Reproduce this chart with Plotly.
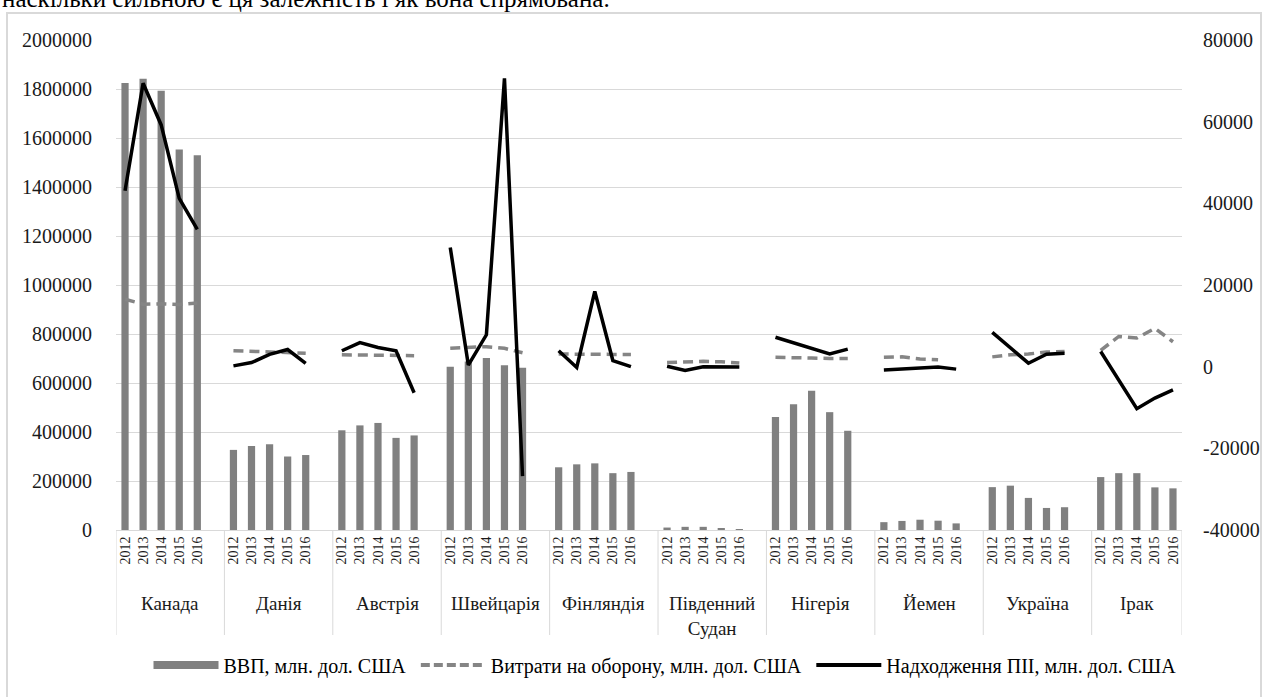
import plotly.graph_objects as go

countries = ["Канада", "Данія", "Австрія", "Швейцарія", "Фінляндія",
             "Південний<br>Судан", "Нігерія", "Йемен", "Україна", "Ірак"]
years = ["2012", "2013", "2014", "2015", "2016"]
right_ticks = [-40000, -20000, 0, 20000, 40000, 60000, 80000]

gdp = [
    [1824000, 1842000, 1793000, 1553000, 1530000],
    [327000, 343000, 350000, 300000, 306000],
    [407000, 427000, 437000, 376000, 386000],
    [666000, 688000, 702000, 672000, 662000],
    [256000, 268000, 272000, 232000, 237000],
    [10000, 13000, 13000, 6000, 2500],
    [461000, 513000, 568000, 481000, 405000],
    [32000, 37000, 42000, 38000, 27000],
    [175000, 181000, 131000, 90000, 93000],
    [216000, 232000, 232000, 174000, 170000],
]
defense = [
    [16500, 15300, 15400, 15200, 15600],
    [3900, 3700, 3500, 3300, 3300],
    [2900, 2800, 2800, 2700, 2700],
    [4500, 4700, 4900, 4500, 3400],
    [3100, 3000, 3000, 3000, 3000],
    [1000, 1200, 1300, 1200, 900],
    [2300, 2100, 2100, 2000, 2000],
    [2300, 2400, 1900, 1700, None],
    [2400, 2900, 3100, 3600, 3700],
    [4000, 7400, 7000, 9400, 6100],
]
fdi = [
    [43100, 69400, 59200, 41200, 33600],
    [200, 1000, 3000, 4200, 800],
    [3900, 5900, 4700, 3900, -6400],
    [29200, 400, 7800, 70600, -26800],
    [3900, -200, 18400, 1500, 0],
    [100, -900, 0, 0, -100],
    [7200, 5900, 4500, 3100, 4300],
    [-800, -600, -400, -100, -600],
    [8400, 4500, 850, 3050, 3300],
    [3700, -3300, -10300, -7700, -5700],
]

SLOT = len(years) + 1  # blank category after each country group
n_groups = len(countries)
x_max = n_groups * SLOT - 1 - 0.5

bar_x, bar_y, tick_vals, tick_text = [], [], [], []
line_x, def_y, fdi_y = [], [], []
for g in range(n_groups):
    for i, yr in enumerate(years):
        pos = g * SLOT + i
        bar_x.append(pos)
        bar_y.append(gdp[g][i])
        tick_vals.append(pos)
        tick_text.append(yr)
        line_x.append(pos)
        def_y.append(defense[g][i])
        fdi_y.append(fdi[g][i])
    line_x.append(None)
    def_y.append(None)
    fdi_y.append(None)

SERIF = "Liberation Serif, Times New Roman, serif"
GRID = "#d9d9d9"
NB = "\u00a0"

fig = go.Figure()
fig.add_trace(go.Bar(x=bar_x, y=bar_y, width=0.4, marker_color="#808080",
                     marker_line_width=0, name="ВВП, млн. дол. США",
                     showlegend=False, yaxis="y"))
fig.add_trace(go.Scatter(x=line_x, y=def_y, mode="lines", yaxis="y2",
                         line=dict(color="#858585", width=3.5, dash="10px,6px"),
                         connectgaps=False, showlegend=False,
                         name="Витрати на оборону, млн. дол. США"))
fig.add_trace(go.Scatter(x=line_x, y=fdi_y, mode="lines", yaxis="y2",
                         line=dict(color="#000000", width=3.5),
                         connectgaps=False, showlegend=False,
                         name="Надходження ПІІ, млн. дол. США"))
# legend entries
fig.add_trace(go.Scatter(x=[None], y=[None], mode="lines", yaxis="y2",
                         line=dict(color="#808080", width=8),
                         name="ВВП, млн. дол. США" + NB))
fig.add_trace(go.Scatter(x=[None], y=[None], mode="lines", yaxis="y2",
                         line=dict(color="#858585", width=4, dash="9px,4px"),
                         name="Витрати на оборону, млн. дол. США" + NB))
fig.add_trace(go.Scatter(x=[None], y=[None], mode="lines", yaxis="y2",
                         line=dict(color="#000000", width=4),
                         name="Надходження ПІІ, млн. дол. США"))

W, H = 1264, 697
PL, PR, PT, PB = 116, 1182, 40, 530      # plot area in page pixels
L, T = PL, PT
R, B = W - PR, H - PB
pw, ph = PR - PL, PB - PT

def py2paper(py):
    return (PB - py) / ph

def px2paper(px):
    return (px - PL) / pw

shapes = []
for g in range(n_groups + 1):
    xs = g * SLOT - 0.5 if g < n_groups else x_max
    shapes.append(dict(type="line", xref="x", yref="paper", x0=xs, x1=xs,
                       y0=0, y1=py2paper(635),
                       line=dict(color=GRID, width=1)))
shapes.append(dict(type="rect", xref="paper", yref="paper",
                   x0=px2paper(7), x1=px2paper(1261),
                   y0=py2paper(720), y1=py2paper(13),
                   line=dict(color="#d9d9d9", width=2), fillcolor="rgba(0,0,0,0)",
                   layer="below"))

annotations = []
for g, c in enumerate(countries):
    if g == n_groups - 1:
        cx = g * SLOT + (len(years) - 1) / 2
    else:
        cx = g * SLOT + (SLOT - 1) / 2
    annotations.append(dict(x=cx, y=py2paper(591), xref="x", yref="paper",
                            text=c, showarrow=False, yanchor="top",
                            font=dict(family=SERIF, size=19, color="#1a1a1a")))
annotations.append(dict(x=px2paper(0), y=py2paper(14), xref="paper",
                        yref="paper", xanchor="left", yanchor="bottom",
                        text="наскільки сильною є ця залежність і як вона спрямована.",
                        showarrow=False,
                        font=dict(family=SERIF, size=25, color="#000000")))

fig.update_layout(
    width=W, height=H,
    margin=dict(l=L, r=R, t=T, b=B, autoexpand=False),
    paper_bgcolor="white", plot_bgcolor="white",
    showlegend=True,
    legend=dict(orientation="h", x=px2paper(665), xanchor="center",
                y=py2paper(665), yanchor="middle",
                font=dict(family=SERIF, size=20, color="#000000"),
                itemwidth=65, bgcolor="rgba(0,0,0,0)"),
    xaxis=dict(range=[-0.5, x_max], tickmode="array", tickvals=tick_vals,
               ticktext=tick_text, tickangle=-90, showgrid=False,
               zeroline=False, showline=True, linecolor=GRID, linewidth=1,
               ticks="", tickfont=dict(family=SERIF, size=14, color="#1a1a1a")),
    yaxis=dict(range=[0, 2000000], dtick=200000, tickformat="d",
               showgrid=True, gridcolor=GRID, gridwidth=1, zeroline=False,
               ticks="outside", ticklen=19, tickcolor="rgba(0,0,0,0)",
               tickfont=dict(family=SERIF, size=20, color="#1a1a1a")),
    yaxis2=dict(range=[-40000, 80000], tickmode="array", tickvals=right_ticks,
                ticktext=[str(v) for v in right_ticks],
                overlaying="y", side="right", showgrid=False, zeroline=False,
                ticks="outside", ticklen=16, tickcolor="rgba(0,0,0,0)",
                tickfont=dict(family=SERIF, size=20, color="#1a1a1a")),
    shapes=shapes,
    annotations=annotations,
)

fig.write_html("out.html", config={"displayModeBar": False},
               post_script="document.body.style.margin='0px';")
